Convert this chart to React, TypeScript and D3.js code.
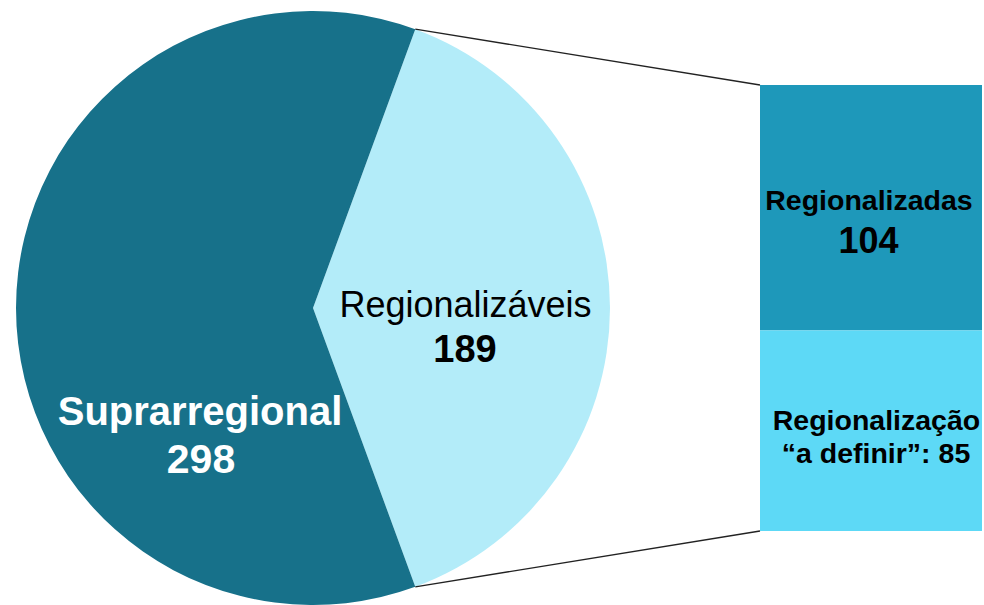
import React from "react";
import * as d3 from "d3";

const pieCategories = ["Regionalizáveis", "Suprarregional"];
const pieValues = [189, 298];
const barCategories = ["Regionalizadas", "Regionalização “a definir”"];
const barValues = [104, 85];

const W = 984;
const H = 605;

export default function App() {
  const cx = 313, cy = 308, r = 297;
  const total = d3.sum(pieValues);
  const half = (pieValues[0] / total) * Math.PI;
  const pie = d3
    .pie<number>()
    .sort(null)
    .startAngle(Math.PI / 2 - half)
    .endAngle(Math.PI / 2 - half + 2 * Math.PI);
  const arcs = pie(pieValues);
  const arc = d3.arc<d3.PieArcDatum<number>>().innerRadius(0).outerRadius(r);
  const pieColors = ["#B3ECF9", "#17718A"];

  const bx0 = 760, bx1 = 982, by0 = 85, by1 = 531;
  const barTotal = d3.sum(barValues);
  const y = d3.scaleLinear().domain([0, barTotal]).range([by0, by1]);
  const barColors = ["#1E98BA", "#5DD9F6"];

  const a0 = arcs[0].startAngle;
  const a1 = arcs[0].endAngle;
  const p0 = [cx + r * Math.sin(a0), cy - r * Math.cos(a0)];
  const p1 = [cx + r * Math.sin(a1), cy - r * Math.cos(a1)];

  const font = "'Liberation Sans', Arial, sans-serif";

  return (
    <svg width={W} height={H} style={{ position: "absolute", left: 0, top: 0 }} fontFamily={font}>
      <rect width={W} height={H} fill="#fff" />
      <g transform={`translate(${cx},${cy})`}>
        {arcs.map((d, i) => (
          <path key={pieCategories[i]} d={arc(d) || ""} fill={pieColors[i]} />
        ))}
      </g>
      <line x1={p0[0]} y1={p0[1]} x2={bx0} y2={by0} stroke="#222" strokeWidth={1.3} />
      <line x1={p1[0]} y1={p1[1]} x2={bx0} y2={by1} stroke="#222" strokeWidth={1.3} />
      {barValues.map((v, i) => {
        const start = d3.sum(barValues.slice(0, i));
        return (
          <rect
            key={barCategories[i]}
            x={bx0}
            y={y(start)}
            width={bx1 - bx0}
            height={y(start + v) - y(start)}
            fill={barColors[i]}
          />
        );
      })}
      <text x={465.5} y={317} textAnchor="middle" fontSize={36} fill="#000">{pieCategories[0]}</text>
      <text x={465} y={362} textAnchor="middle" fontSize={38} fontWeight="bold" fill="#000">{pieValues[0]}</text>
      <text x={200} y={425} textAnchor="middle" fontSize={40} fontWeight="bold" fill="#fff">{pieCategories[1]}</text>
      <text x={201} y={473} textAnchor="middle" fontSize={41} fontWeight="bold" fill="#fff">{pieValues[1]}</text>
      <text x={869} y={210} textAnchor="middle" fontSize={28.5} fontWeight="bold" fill="#000">{barCategories[0]}</text>
      <text x={868.5} y={253} textAnchor="middle" fontSize={36} fontWeight="bold" fill="#000">{barValues[0]}</text>
      <text x={876.5} y={430} textAnchor="middle" fontSize={28.5} fontWeight="bold" fill="#000">Regionalização</text>
      <text x={876} y={463} textAnchor="middle" fontSize={28.5} fontWeight="bold" fill="#000">{`“a definir”: ${barValues[1]}`}</text>
    </svg>
  );
}
